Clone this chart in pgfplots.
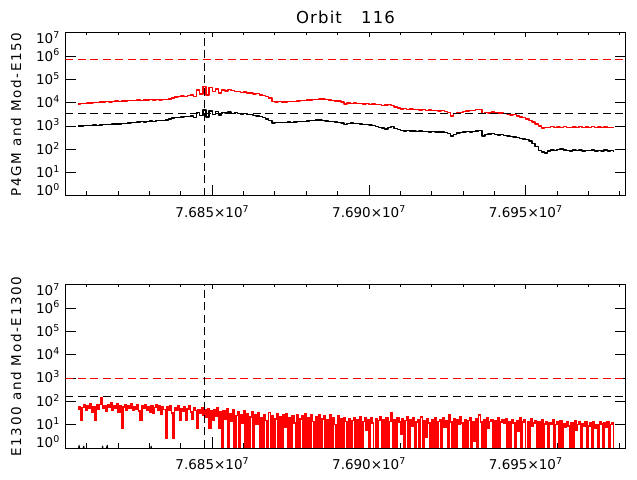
\documentclass[border=0pt]{standalone}
\usepackage{fontspec}
\setmainfont{DejaVu Sans}
\newfontfamily\labelfam{DejaVu Sans}[LetterSpace=12.5]
\newfontfamily\titlefam{DejaVu Sans}[LetterSpace=7]
\usepackage{pgfplots}
\pgfplotsset{compat=1.18}
\newcommand\tickfont{\fontsize{13.5bp}{16bp}\selectfont}
\newcommand\labelfont{\labelfam\fontsize{13.5bp}{16bp}\selectfont}
\newcommand\titlefont{\titlefam\fontsize{16.5bp}{19bp}\selectfont}
\pgfplotsset{
 mypanel/.style={
  scale only axis, width=560.4bp, height=163bp, anchor=south west,
  xmin=3.1, xmax=181.9, ymin=1, ymax=1e7,
  axis line style={line width=1bp},
  tick style={line width=1bp, black},
  tick align=inside, major tick length=11bp, minor tick length=5bp,
  xtick={50,100,150},
  xticklabels={7.685×10\textsuperscript{7},7.690×10\textsuperscript{7},7.695×10\textsuperscript{7}},
  minor xtick={10,20,30,40,60,70,80,90,110,120,130,140,160,170,180},
  xtick pos=left,
  ytick={1,10,100,1000,10000,100000,1000000,10000000},
  yticklabels={\raisebox{5bp}{10\textsuperscript{0}},10\textsuperscript{1},10\textsuperscript{2},10\textsuperscript{3},10\textsuperscript{4},10\textsuperscript{5},10\textsuperscript{6},\raisebox{-6bp}{10\textsuperscript{7}}},
  yminorticks=false,
  tick label style={font=\tickfont},
  xticklabel style={anchor=base, yshift=-21.3bp},
  yticklabel style={anchor=base east, inner sep=0pt, xshift=-5.3bp, yshift=-4.8bp},
  every axis y label/.style={at={(axis description cs:-0.088,0.5)}, rotate=90, anchor=center, font=\labelfont},
  every axis title/.style={at={(axis description cs:0.5,1)}, anchor=base, yshift=9bp, font=\titlefont},
  every axis plot/.append style={line width=1bp, line join=round, mark=none},
 },
 mytop/.style={
  scale only axis, width=560.4bp, height=163bp, anchor=south west,
  xmin=3.1, xmax=181.9, ymin=0, ymax=1,
  axis line style={draw=none}, ytick=\empty,
  tick style={line width=1bp, black},
  tick align=inside, major tick length=4bp, minor tick length=2bp,
  xtick={50,100,150}, xticklabels={,,},
  minor xtick={10,20,30,40,60,70,80,90,110,120,130,140,160,170,180},
  xtick pos=right, xticklabel pos=right,
 },
}
\tikzset{mydash/.style={dash pattern=on 8bp off 4.5bp}}
\begin{document}
\begin{tikzpicture}
\useasboundingbox (0,0) rectangle (637bp,480bp);
% ---------------- top panel ----------------
\begin{axis}[ymode=log, mypanel, at={(65.3bp,284bp)}, title={Orbit\ \ \ 116}, ylabel={P4GM and Mod-E150}]
\addplot[red, const plot, line width=1.4bp] coordinates {
(7,8930)(8,9400)(9,9200)(10,9860)(11,9700)(12,10200)(13,10400)(14,10900)(15,10700)(16,11200)
(17,11000)(18,11600)(19,11900)(20,11700)(21,12200)(22,12000)(23,12500)(24,12700)(25,12400)(26,13000)
(27,12800)(28,13300)(29,13100)(30,13600)(31,13400)(32,13900)(33,13500)(34,14000)(35,13800)(36,14600)
(37,16200)(38,17900)(39,18500)(40,19700)(41,19200)(42,20500)(43,21700)(44,18500)(45,36000)(46,24000)
(47,50000)(48,22000)(49,45000)(50,30000)(51,40000)(52,26500)(53,35600)(54,32000)(55,38000)(56,33000)
(57,30000)(58,31000)(59,28000)(60,29000)(61,26500)(62,27000)(63,24000)(64,25000)(65,22000)(66,21000)
(67,19000)(68,16000)(69,11500)(70,10900)(71,11100)(72,10700)(73,11000)(74,11200)(75,11100)(76,11600)
(77,12000)(78,12400)(79,12800)(80,13300)(81,13100)(82,13600)(83,13900)(84,14400)(85,14600)(86,14000)
(87,13400)(88,12600)(89,12200)(90,11800)(91,11000)(92,8900)(93,9900)(94,9400)(95,9700)(96,9300)
(97,9500)(98,9100)(99,9300)(100,8700)(101,8900)(102,8500)(103,8300)(104,7900)(105,8200)(106,8700)
(107,7600)(108,6600)(109,6000)(110,5500)(111,5700)(112,5300)(113,5500)(114,5100)(115,5300)(116,4930)
(117,5200)(118,4800)(119,5000)(120,4600)(121,4700)(122,4470)(123,4600)(124,4200)(125,3900)(126,2700)
(127,3400)(128,3700)(129,3900)(130,4200)(131,4400)(132,4600)(133,4800)(134,5100)(135,5300)(136,3500)
(137,3900)(138,3700)(139,4000)(140,3800)(141,3700)(142,3660)(143,3500)(144,3300)(145,3010)(146,3100)
(147,2700)(148,2470)(149,2300)(150,2000)(151,1700)(152,1500)(153,1240)(154,1000)(155,832)(156,900)
(157,860)(158,940)(159,880)(160,920)(161,870)(162,960)(163,900)(164,850)(165,930)(166,880)
(167,940)(168,870)(169,910)(170,860)(171,950)(172,890)(173,920)(174,870)(175,930)(176,880)
(177,900)(178,860)
};
\addplot[black, const plot, line width=1.4bp] coordinates {
(7,1000)(8,1030)(9,1050)(10,1040)(11,1080)(12,1100)(13,1090)(14,1120)(15,1150)(16,1180)
(17,1160)(18,1220)(19,1250)(20,1230)(21,1300)(22,1330)(23,1360)(24,1420)(25,1460)(26,1500)
(27,1540)(28,1520)(29,1580)(30,1660)(31,1620)(32,1700)(33,1750)(34,1720)(35,1840)(36,2000)
(37,2240)(38,2300)(39,2400)(40,2470)(41,2550)(42,2650)(43,2730)(44,2400)(45,3800)(46,2800)
(47,5000)(48,2500)(49,4500)(50,3200)(51,4200)(52,3000)(53,3900)(54,3660)(55,4000)(56,3500)
(57,3800)(58,3400)(59,3320)(60,3500)(61,3100)(62,3200)(63,2900)(64,2730)(65,2600)(66,2300)
(67,2030)(68,1700)(69,1360)(70,1400)(71,1420)(72,1450)(73,1420)(74,1480)(75,1450)(76,1520)
(77,1560)(78,1600)(79,1620)(80,1660)(81,1700)(82,1760)(83,1840)(84,1800)(85,1720)(86,1650)
(87,1600)(88,1550)(89,1500)(90,1420)(91,1360)(92,1150)(93,1300)(94,1360)(95,1330)(96,1290)
(97,1250)(98,1200)(99,1150)(100,1120)(101,1050)(102,980)(103,900)(104,830)(105,750)(106,900)
(107,950)(108,800)(109,720)(110,660)(111,620)(112,650)(113,610)(114,630)(115,600)(116,620)
(117,580)(118,600)(119,570)(120,590)(121,560)(122,570)(123,560)(124,530)(125,470)(126,370)
(127,450)(128,500)(129,530)(130,560)(131,580)(132,560)(133,600)(134,620)(135,640)(136,380)
(137,430)(138,460)(139,470)(140,440)(141,420)(142,430)(143,400)(144,380)(145,350)(146,340)
(147,320)(148,300)(149,280)(150,260)(151,230)(152,180)(153,130)(154,90)(155,78)(156,70)
(157,85)(158,95)(159,88)(160,100)(161,104)(162,96)(163,92)(164,87)(165,94)(166,89)
(167,95)(168,86)(169,92)(170,88)(171,95)(172,84)(173,91)(174,87)(175,93)(176,85)
(177,88)(178,80)
};
\addplot[red, mydash] coordinates {(3.1,740000)(181.9,740000)};
\addplot[black, mydash] coordinates {(3.1,3550)(181.9,3550)};
\addplot[black, mydash] coordinates {(47.4,1)(47.4,10000000)};
\end{axis}
\begin{axis}[mytop, at={(65.3bp,284bp)}]
\end{axis}
% ---------------- bottom panel ----------------
\begin{axis}[ymode=log, mypanel, at={(65.3bp,32bp)}, ylabel={E1300 and Mod-E1300}]
\addplot[black] coordinates {
(7,0.5)(7.5,1.3)(8,0.5)(9,1.2)(9.5,0.5)(14.5,0.5)(15,1.2)(15.5,0.5)(16.5,1.3)(17,0.5)(30,0.5)(30.5,1.2)(31,0.5)(178,0.5)
};
\addplot[red, const plot, line width=1.55bp, line join=miter] coordinates {
(7.0,45)(7.5,60)(8.0,15)(8.5,55)(9.0,70)(9.5,40)(10.0,65)(10.5,50)(11.0,80)(11.5,35)
(12.0,60)(12.5,15)(13.0,70)(13.5,45)(14.0,75)(14.5,140)(15.0,50)(15.5,65)(16.0,38)(16.5,72)
(17.0,55)(17.5,85)(18.0,42)(18.5,68)(19.0,50)(19.5,78)(20.0,36)(20.5,62)(21.0,7)(21.5,58)
(22.0,70)(22.5,44)(23.0,66)(23.5,52)(24.0,80)(24.5,40)(25.0,60)(25.5,48)(26.0,74)(26.5,38)
(27.0,15)(27.5,64)(28.0,50)(28.5,70)(29.0,42)(29.5,58)(30.0,35)(30.5,66)(31.0,30)(31.5,55)
(32.0,72)(32.5,40)(33.0,62)(33.5,28)(34.0,58)(34.5,45)(35.0,2.7)(35.5,60)(36.0,40)(36.5,68)
(37.0,32)(37.5,2.7)(38.0,55)(38.5,42)(39.0,62)(39.5,15)(40.0,50)(40.5,38)(41.0,58)(41.5,15)
(42.0,48)(42.5,66)(43.0,35)(43.5,18)(44.0,52)(44.5,40)(45.0,7)(45.5,45)(46.0,30)(46.5,55)
(47.0,26)(47.5,42)(48.0,20)(48.5,50)(49.0,7)(49.5,38)(50.0,16)(50.5,45)(51.0,24)(51.5,52)
(52.0,7)(52.5,35)(53.0,0.5)(53.5,40)(54.0,18)(54.5,48)(55.0,0.5)(55.5,30)(56.0,14)(56.5,42)
(57.0,0.5)(57.5,25)(58.0,36)(58.5,0.5)(59.0,28)(59.5,12)(60.0,40)(60.5,0.5)(61.0,30)(61.5,0.5)
(62.0,22)(62.5,35)(63.0,0.5)(63.5,26)(64.0,10)(64.5,32)(65.0,0.5)(65.5,20)(66.0,0.5)(66.5,28)
(67.0,15)(67.5,0.5)(68.0,34)(68.5,0.5)(69.0,24)(69.5,0.5)(70.0,18)(70.5,30)(71.0,0.5)(71.5,22)
(72.0,0.5)(72.5,26)(73.0,8)(73.5,30)(74.0,0.5)(74.5,20)(75.0,0.5)(75.5,25)(76.0,12)(76.5,0.5)
(77.0,28)(77.5,0.5)(78.0,18)(78.5,24)(79.0,0.5)(79.5,30)(80.0,0.5)(80.5,20)(81.0,0.5)(81.5,26)
(82.0,14)(82.5,0.5)(83.0,22)(83.5,0.5)(84.0,28)(84.5,0.5)(85.0,18)(85.5,24)(86.0,0.5)(86.5,16)
(87.0,0.5)(87.5,26)(88.0,0.5)(88.5,20)(89.0,10)(89.5,0.5)(90.0,24)(90.5,0.5)(91.0,18)(91.5,0.5)
(92.0,20)(92.5,14)(93.0,0.5)(93.5,18)(94.0,0.5)(94.5,15)(95.0,20)(95.5,0.5)(96.0,17)(96.5,0.5)
(97.0,22)(97.5,0.5)(98.0,14)(98.5,19)(99.0,6)(99.5,16)(100.0,0.5)(100.5,20)(101.0,12)(101.5,0.5)
(102.0,18)(102.5,0.5)(103.0,15)(103.5,22)(104.0,0.5)(104.5,16)(105.0,0.5)(105.5,19)(106.0,0.5)(106.5,14)
(107.0,32)(107.5,0.5)(108.0,17)(108.5,0.5)(109.0,20)(109.5,13)(110.0,4)(110.5,18)(111.0,0.5)(111.5,15)
(112.0,21)(112.5,0.5)(113.0,16)(113.5,9)(114.0,19)(114.5,0.5)(115.0,13)(115.5,17)(116.0,0.5)(116.5,22)
(117.0,0.5)(117.5,15)(118.0,3)(118.5,18)(119.0,12)(119.5,0.5)(120.0,16)(120.5,0.5)(121.0,20)(121.5,0.5)
(122.0,14)(122.5,17)(123.0,0.5)(123.5,19)(124.0,8)(124.5,15)(125.0,0.5)(125.5,26)(126.0,13)(126.5,0.5)
(127.0,18)(127.5,0.5)(128.0,16)(128.5,11)(129.0,21)(129.5,12)(130.0,0.5)(130.5,17)(131.0,0.5)(131.5,15)
(132.0,19)(132.5,0.5)(133.0,14)(133.5,2)(134.0,18)(134.5,0.5)(135.0,26)(135.5,13)(136.0,0.5)(136.5,16)
(137.0,0.5)(137.5,19)(138.0,7)(138.5,14)(139.0,17)(139.5,0.5)(140.0,15)(140.5,0.5)(141.0,20)(141.5,0.5)
(142.0,13)(142.5,16)(143.0,12)(143.5,18)(144.0,0.5)(144.5,14)(145.0,0.5)(145.5,17)(146.0,12)(146.5,0.5)
(147.0,15)(147.5,5)(148.0,19)(148.5,0.5)(149.0,13)(149.5,16)(150.0,0.5)(150.5,14)(151.0,0.5)(151.5,18)
(152.0,9)(152.5,12)(153.0,15)(153.5,0.5)(154.0,13)(154.5,0.5)(155.0,17)(155.5,0.5)(156.0,11)(156.5,14)
(157.0,0.5)(157.5,12)(158.0,10)(158.5,16)(159.0,0.5)(159.5,10)(160.0,13)(160.5,0.5)(161.0,15)(161.5,0.5)
(162.0,11)(162.5,8)(163.0,14)(163.5,9)(164.0,0.5)(164.5,12)(165.0,0.5)(165.5,15)(166.0,6)(166.5,10)
(167.0,13)(167.5,0.5)(168.0,11)(168.5,9)(169.0,14)(169.5,0.5)(170.0,9)(170.5,12)(171.0,0.5)(171.5,13)
(172.0,7)(172.5,10)(173.0,0.5)(173.5,14)(174.0,11)(174.5,0.5)(175.0,12)(175.5,8)(176.0,13)(176.5,0.5)
(177.0,10)(177.5,12)(178.0,0.5)
};
\addplot[red, mydash] coordinates {(3.1,1000)(181.9,1000)};
\addplot[black, mydash] coordinates {(3.1,155)(181.9,155)};
\addplot[black, mydash] coordinates {(47.4,1)(47.4,10000000)};
\end{axis}
\begin{axis}[mytop, at={(65.3bp,32bp)}]
\end{axis}
\end{tikzpicture}
\end{document}
